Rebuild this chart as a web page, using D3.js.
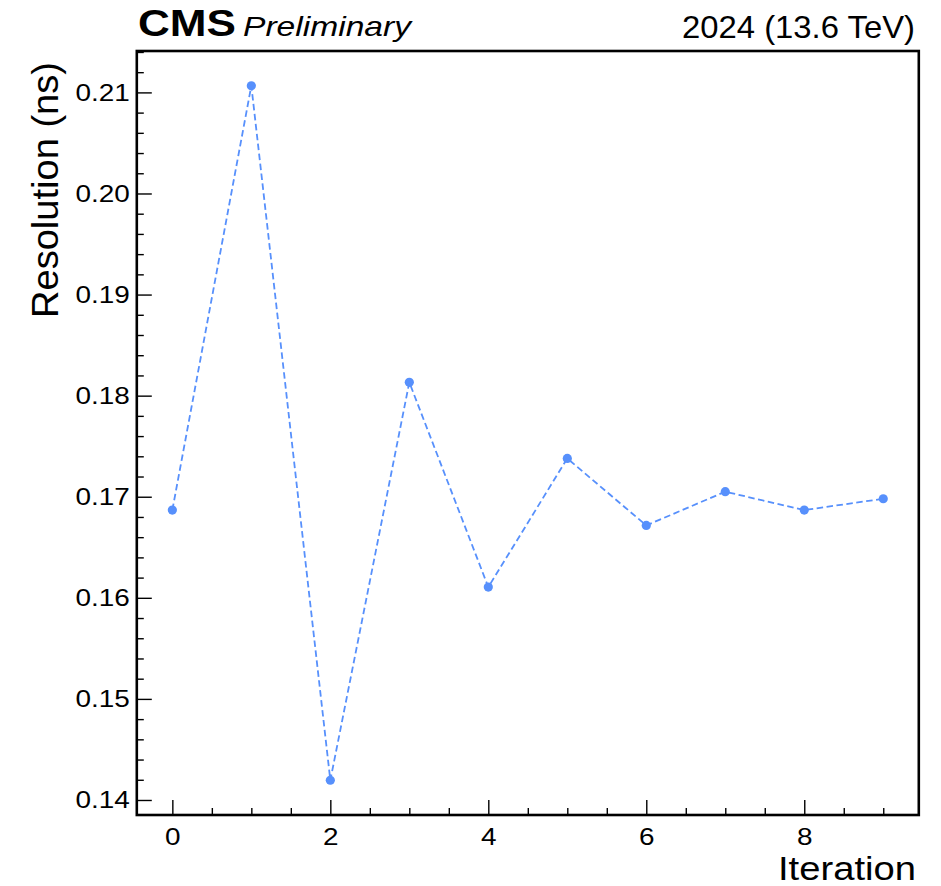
<!DOCTYPE html>
<html>
<head>
<meta charset="utf-8">
<script src="https://cdn.jsdelivr.net/npm/d3@7"></script>
<style>
  html, body { margin: 0; padding: 0; background: #fff; }
  svg { display: block; font-family: "Liberation Sans", Arial, Helvetica, sans-serif; }
</style>
</head>
<body>
<svg id="chart" width="941" height="886"></svg>
<script>
// Timing resolution per calibration iteration
const iterations = [0, 1, 2, 3, 4, 5, 6, 7, 8, 9];
const resolution = [0.16868, 0.21066, 0.14195, 0.18132, 0.16106, 0.17379, 0.16716, 0.17050, 0.16868, 0.16980];

const xMajorTicks = [0, 2, 4, 6, 8];
const yMajorTicks = [0.14, 0.15, 0.16, 0.17, 0.18, 0.19, 0.20, 0.21];

const expLabel = "CMS";
const statusLabel = "Preliminary";
const lumiLabel = "2024 (13.6 TeV)";
const xTitle = "Iteration";
const yTitle = "Resolution (ns)";

const lineColor = "#5790fc";

const frame = { left: 136.8, right: 918.8, top: 51, bottom: 815 };

const svg = d3.select("#chart");

// 5% margins around the data range on both axes
const xPad = (d3.max(iterations) - d3.min(iterations)) * 0.05;
const yExt = d3.extent(resolution);
const yPad = (yExt[1] - yExt[0]) * 0.05;

const x = d3.scaleLinear()
  .domain([d3.min(iterations) - xPad, d3.max(iterations) + xPad])
  .range([frame.left, frame.right]);
const y = d3.scaleLinear()
  .domain([yExt[0] - yPad, yExt[1] + yPad])
  .range([frame.bottom, frame.top]);

// minor tick positions inside the domain
const xMinor = d3.range(-2, 40).map(i => i * 0.5)
  .filter(v => v >= x.domain()[0] && v <= x.domain()[1] && Math.abs(v / 2 - Math.round(v / 2)) > 1e-9);
const yMinor = d3.range(60, 120).filter(i => i % 5 !== 0).map(i => i * 0.002)
  .filter(v => v >= y.domain()[0] && v <= y.domain()[1]);

// widen horizontal text slightly to match the Helvetica-like proportions
function stretch(sel, k) {
  sel.each(function () {
    const len = this.getComputedTextLength();
    d3.select(this).attr("textLength", len * k).attr("lengthAdjust", "spacingAndGlyphs");
  });
}

// minor ticks
svg.append("g")
  .attr("transform", `translate(0,${frame.bottom})`)
  .call(d3.axisBottom(x).tickValues(xMinor).tickSize(-7).tickFormat(""))
  .call(g => g.select(".domain").remove())
  .call(g => g.selectAll("line").attr("stroke", "#000").attr("stroke-width", 1.4));
svg.append("g")
  .attr("transform", `translate(${frame.left},0)`)
  .call(d3.axisLeft(y).tickValues(yMinor).tickSize(-7).tickFormat(""))
  .call(g => g.select(".domain").remove())
  .call(g => g.selectAll("line").attr("stroke", "#000").attr("stroke-width", 1.4));

// major ticks with labels
const gx = svg.append("g")
  .attr("transform", `translate(0,${frame.bottom})`)
  .call(d3.axisBottom(x).tickValues(xMajorTicks).tickSize(-15).tickPadding(13).tickFormat(d3.format("d")))
  .call(g => g.select(".domain").remove())
  .call(g => g.selectAll("line").attr("stroke", "#000").attr("stroke-width", 1.4));
gx.selectAll("text")
  .attr("font-size", 24.5)
  .attr("font-family", "Liberation Sans, Arial, sans-serif")
  .attr("fill", "#000");
stretch(gx.selectAll("text"), 1.14);

const gy = svg.append("g")
  .attr("transform", `translate(${frame.left},0)`)
  .call(d3.axisLeft(y).tickValues(yMajorTicks).tickSize(-15).tickPadding(7).tickFormat(d3.format(".2f")))
  .call(g => g.select(".domain").remove())
  .call(g => g.selectAll("line").attr("stroke", "#000").attr("stroke-width", 1.4));
gy.selectAll("text")
  .attr("font-size", 24.5)
  .attr("font-family", "Liberation Sans, Arial, sans-serif")
  .attr("fill", "#000");
stretch(gy.selectAll("text"), 1.14);

// plot frame
svg.append("rect")
  .attr("x", frame.left).attr("y", frame.top)
  .attr("width", frame.right - frame.left).attr("height", frame.bottom - frame.top)
  .attr("fill", "none").attr("stroke", "#000").attr("stroke-width", 2.6);

// series: dashed line with round markers
const pts = iterations.map((it, i) => [it, resolution[i]]);
const line = d3.line().x(d => x(d[0])).y(d => y(d[1]));
svg.append("path")
  .datum(pts)
  .attr("d", line)
  .attr("fill", "none")
  .attr("stroke", lineColor)
  .attr("stroke-width", 1.8)
  .attr("stroke-dasharray", "6.5,3.5");
svg.append("g").selectAll("circle")
  .data(pts)
  .join("circle")
  .attr("cx", d => x(d[0]))
  .attr("cy", d => y(d[1]))
  .attr("r", 4.6)
  .attr("fill", lineColor);

// axis titles
svg.append("text")
  .attr("x", 916).attr("y", 880)
  .attr("text-anchor", "end")
  .attr("font-size", 33)
  .attr("textLength", 138).attr("lengthAdjust", "spacingAndGlyphs")
  .text(xTitle);

svg.append("text")
  .attr("transform", "translate(58,62) rotate(-90)")
  .attr("text-anchor", "end")
  .attr("font-size", 37.5)
  .attr("textLength", 256).attr("lengthAdjust", "spacingAndGlyphs")
  .text(yTitle);

// experiment and run labels
svg.append("text")
  .attr("x", 138).attr("y", 36)
  .attr("font-size", 36).attr("font-weight", "bold")
  .attr("textLength", 98).attr("lengthAdjust", "spacingAndGlyphs")
  .text(expLabel);
svg.append("text")
  .attr("x", 243).attr("y", 36)
  .attr("font-size", 28).attr("font-style", "italic")
  .attr("textLength", 168).attr("lengthAdjust", "spacingAndGlyphs")
  .text(statusLabel);
svg.append("text")
  .attr("x", 915).attr("y", 37.5)
  .attr("text-anchor", "end")
  .attr("font-size", 32)
  .attr("textLength", 233).attr("lengthAdjust", "spacingAndGlyphs")
  .text(lumiLabel);
</script>
</body>
</html>
